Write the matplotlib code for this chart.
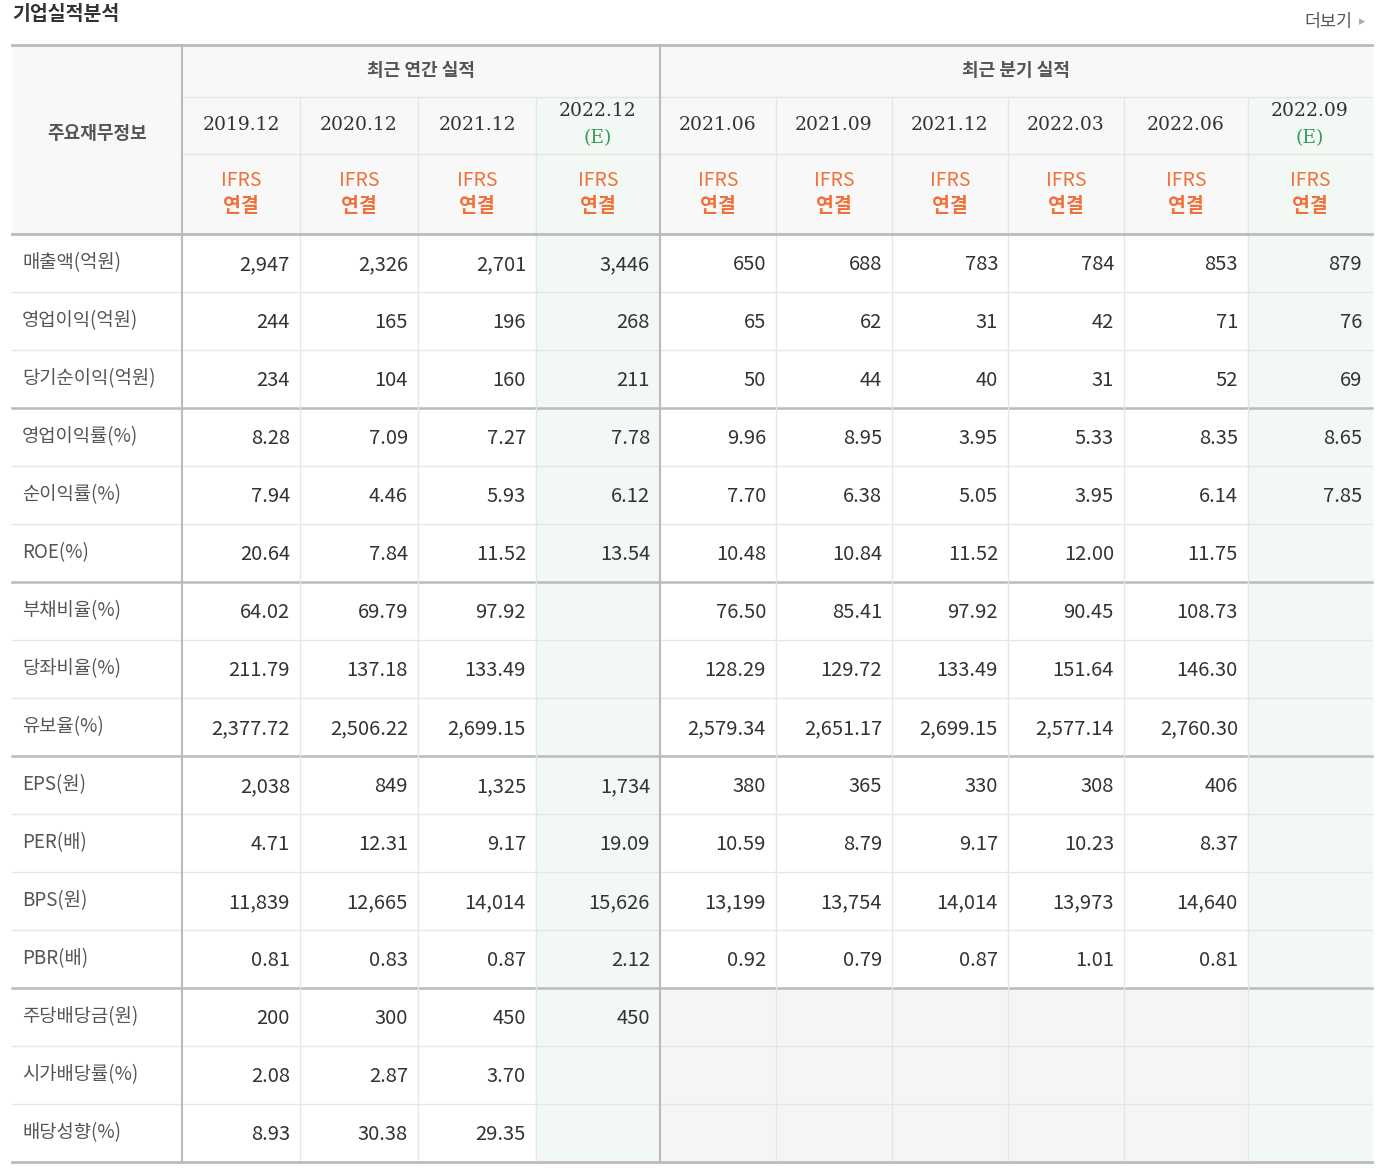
import matplotlib.pyplot as plt
from matplotlib.patches import Rectangle

# Data
row_labels = ["매출액(억원)", "영업이익(억원)", "당기순이익(억원)", "영업이익률(%)", "순이익률(%)", "ROE(%)",
              "부채비율(%)", "당좌비율(%)", "유보율(%)", "EPS(원)", "PER(배)", "BPS(원)", "PBR(배)",
              "주당배당금(원)", "시가배당률(%)", "배당성향(%)"]
periods = ["2019.12", "2020.12", "2021.12", "2022.12", "2021.06", "2021.09", "2021.12", "2022.03", "2022.06", "2022.09"]
estimate = [False, False, False, True, False, False, False, False, False, True]
values = [
    ["2,947", "2,326", "2,701", "3,446", "650", "688", "783", "784", "853", "879"],
    ["244", "165", "196", "268", "65", "62", "31", "42", "71", "76"],
    ["234", "104", "160", "211", "50", "44", "40", "31", "52", "69"],
    ["8.28", "7.09", "7.27", "7.78", "9.96", "8.95", "3.95", "5.33", "8.35", "8.65"],
    ["7.94", "4.46", "5.93", "6.12", "7.70", "6.38", "5.05", "3.95", "6.14", "7.85"],
    ["20.64", "7.84", "11.52", "13.54", "10.48", "10.84", "11.52", "12.00", "11.75", ""],
    ["64.02", "69.79", "97.92", "", "76.50", "85.41", "97.92", "90.45", "108.73", ""],
    ["211.79", "137.18", "133.49", "", "128.29", "129.72", "133.49", "151.64", "146.30", ""],
    ["2,377.72", "2,506.22", "2,699.15", "", "2,579.34", "2,651.17", "2,699.15", "2,577.14", "2,760.30", ""],
    ["2,038", "849", "1,325", "1,734", "380", "365", "330", "308", "406", ""],
    ["4.71", "12.31", "9.17", "19.09", "10.59", "8.79", "9.17", "10.23", "8.37", ""],
    ["11,839", "12,665", "14,014", "15,626", "13,199", "13,754", "14,014", "13,973", "14,640", ""],
    ["0.81", "0.83", "0.87", "2.12", "0.92", "0.79", "0.87", "1.01", "0.81", ""],
    ["200", "300", "450", "450", "", "", "", "", "", ""],
    ["2.08", "2.87", "3.70", "", "", "", "", "", "", ""],
    ["8.93", "30.38", "29.35", "", "", "", "", "", "", ""],
]

KR = ["Noto Sans CJK KR", "Noto Sans CJK JP", "Noto Sans CJK SC", "DejaVu Sans"]
xs = [12, 182, 300, 418, 536, 660, 776, 892, 1008, 1124, 1248, 1372]
y_top, y_grp, y_date, y_ifrs = 45, 97, 154, 234
rh = 58
thick_after = [3, 6, 9, 13]

fig = plt.figure(figsize=(13.78, 11.72), dpi=100)
ax = fig.add_axes([0, 0, 1, 1])
ax.set_xlim(0, 1378)
ax.set_ylim(1172, 0)
ax.axis("off")

n = len(row_labels)
y_end = y_ifrs + n * rh

# backgrounds
ax.add_patch(Rectangle((xs[0], y_top), xs[-1] - xs[0], y_ifrs - y_top, color="#f8f8f8", zorder=0))
for j, e in enumerate(estimate):
    if e:
        ax.add_patch(Rectangle((xs[j + 1], y_grp), xs[j + 2] - xs[j + 1], y_end - y_grp, color="#f2f8f3", zorder=0.5))
for i in range(13, 16):
    ax.add_patch(Rectangle((xs[5], y_ifrs + i * rh), xs[10] - xs[5], rh, color="#f5f5f5", zorder=0.4))

# grid lines
for i in range(1, n):
    y = y_ifrs + i * rh
    thick = (i in thick_after)
    ax.plot([xs[0], xs[-1]], [y, y], color="#bbbbbb" if thick else "#e6e6e6", lw=1.8 if thick else 1, zorder=2)
for y in (y_top, y_ifrs, y_end):
    ax.plot([xs[0], xs[-1]], [y, y], color="#bbbbbb", lw=2, zorder=3)
ax.plot([xs[1], xs[-1]], [y_grp, y_grp], color="#e6e6e6", lw=1, zorder=2)
ax.plot([xs[1], xs[-1]], [y_date, y_date], color="#e6e6e6", lw=1, zorder=2)
for k, x in enumerate(xs[1:-1], start=1):
    if k in (1, 5):
        ax.plot([x, x], [y_top, y_end], color="#bbbbbb", lw=1.5, zorder=3)
    else:
        ax.plot([x, x], [y_grp, y_end], color="#e6e6e6", lw=1, zorder=2)

# titles
ax.text(12, 14, "기업실적분석", fontfamily=KR, fontsize=14, fontweight="bold", color="#333333", va="center")
ax.text(1352, 22, "더보기", fontfamily=KR, fontsize=12.5, color="#555555", va="center", ha="right")
ax.text(1362, 22, "▸", fontsize=9, color="#aaaaaa", va="center", ha="center")
ax.text(97, (y_top + y_ifrs) / 2 - 6, "주요재무정보", fontfamily=KR, fontsize=13, fontweight="bold", color="#555555", ha="center", va="center")
ax.text((xs[1] + xs[5]) / 2, (y_top + y_grp) / 2, "최근 연간 실적", fontfamily=KR, fontsize=13, fontweight="bold", color="#555555", ha="center", va="center")
ax.text((xs[5] + xs[-1]) / 2, (y_top + y_grp) / 2, "최근 분기 실적", fontfamily=KR, fontsize=13, fontweight="bold", color="#555555", ha="center", va="center")

for j, p in enumerate(periods):
    cx = (xs[j + 1] + xs[j + 2]) / 2
    date = " ".join(p).replace(" . ", ".")
    if estimate[j]:
        ax.text(cx, 111, p, fontfamily="DejaVu Serif", fontsize=13.5, color="#333333", ha="center", va="center")
        ax.text(cx, 138, "(E)", fontfamily="DejaVu Serif", fontsize=13.5, color="#3a9a5a", ha="center", va="center")
    else:
        ax.text(cx, 125, p, fontfamily="DejaVu Serif", fontsize=13.5, color="#333333", ha="center", va="center")
    ax.text(cx, 181, "IFRS", fontfamily=KR, fontsize=14, color="#f0703a", ha="center", va="center")
    ax.text(cx, 207, "연결", fontfamily=KR, fontsize=14, fontweight="bold", color="#f0703a", ha="center", va="center")

for i, lab in enumerate(row_labels):
    cy = y_ifrs + i * rh + rh / 2
    ax.text(22, cy, lab, fontfamily=KR, fontsize=13.5, color="#555555", ha="left", va="center")
    for j, v in enumerate(values[i]):
        if v:
            ax.text(xs[j + 2] - 10, cy + 2, v, fontfamily=KR, fontsize=14.5, color="#333333", ha="right", va="center")

fig.savefig("out.png", dpi=100, facecolor="white")
